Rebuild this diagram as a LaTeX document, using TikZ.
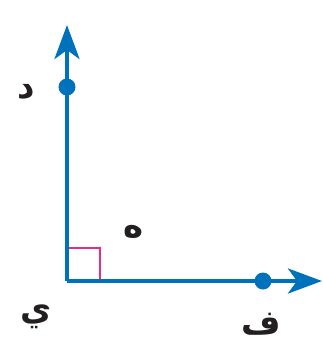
\documentclass[tikz,border=0pt]{standalone}
\usepackage{fontspec}
\usepackage{tikz}
\usetikzlibrary{arrows.meta}
\TeXXeTstate=1
\newfontfamily\arabicfont[Script=Arabic]{DejaVu Sans}
\definecolor{raycolor}{RGB}{0,114,188}
\definecolor{anglecolor}{RGB}{228,44,140}
\definecolor{textcolor}{RGB}{35,31,32}

\begin{document}
\begin{tikzpicture}[x=1pt,y=-1pt,>={Stealth[length=34pt,width=25pt,inset=9pt]},
                    line width=4pt]
  \tikzstyle{ray}=[draw=raycolor,->]
  \tikzstyle{dot}=[circle,fill=raycolor,inner sep=0pt,minimum size=17pt]
  \tikzstyle{letter}=[text=textcolor,inner sep=0pt,font=\arabicfont\bfseries\fontsize{34}{40}\selectfont]

  \useasboundingbox (0,0) rectangle (323,341);

  \coordinate (Y) at (67,281);
  \coordinate (Ytop) at (67,25);
  \coordinate (Yright) at (322,281);

  % right angle mark
  \draw[anglecolor,line width=1.6pt] (Y) ++(0,-33) -| ++(33,33);

  \draw[ray] (Y) -- (Ytop);
  \draw[ray] (Y) -- (Yright);

  \node[dot] (D) at (67,87) {};
  \node[dot] (F) at (263,281) {};

  \node[letter] (Dl) at (26,92)  {\beginR د\endR};
  \node[letter] (Hl) at (134,232) {\beginR ه\endR};
  \node[letter] (Yl) at (36,317) {\beginR ي\endR};
  \node[letter] (Fl) at (261,324) {\beginR ف\endR};
\end{tikzpicture}
\end{document}
